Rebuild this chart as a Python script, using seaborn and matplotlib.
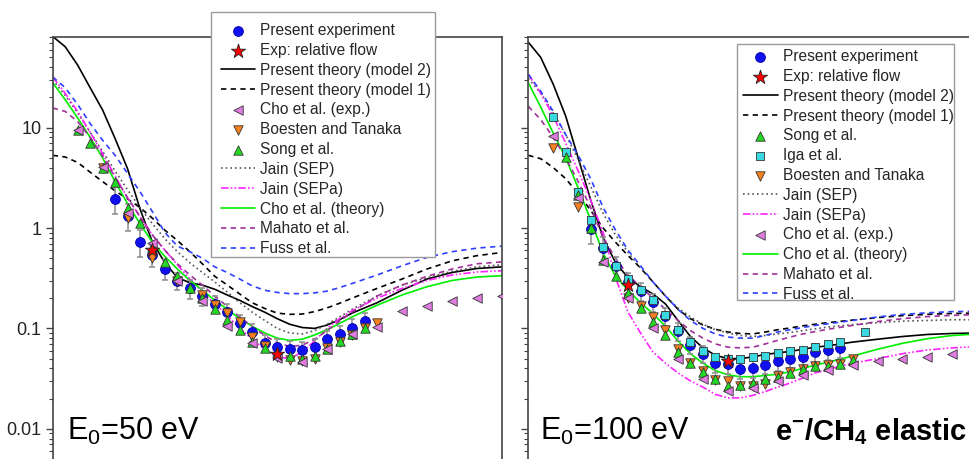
import numpy as np
import seaborn as sns
import matplotlib.pyplot as plt
from matplotlib.patches import Rectangle
from matplotlib.ticker import LogLocator, NullFormatter

# angles (deg)
ang_theory = [0, 5, 10, 15, 20, 25, 30, 35, 40, 45, 50, 55, 60, 65, 70, 75, 80, 85,
              90, 95, 100, 105, 110, 115, 120, 130, 140, 150, 160, 170, 180]
ang_exp = [25, 30, 35, 40, 45, 50, 55, 60, 65, 70, 75, 80, 85, 90, 95, 100, 105,
           110, 115, 120, 125]

# ---------------- 50 eV ----------------
exp50 = [1.96, 1.33, 0.73, 0.54, 0.39, 0.30, 0.25, 0.21, 0.177, 0.146, 0.113, 0.092,
         0.072, 0.066, 0.062, 0.061, 0.066, 0.078, 0.088, 0.101, 0.118]
err50 = [0.30, 0.30, 0.30, 0.25, 0.22, 0.20, 0.22, 0.20, 0.20, 0.20, 0.20, 0.20,
         0.20, 0.20, 0.20, 0.20, 0.20, 0.20, 0.20, 0.22, 0.22]
flow_ang50 = [40, 90]
flow50 = [0.61, 0.055]
cho_exp_ang50 = [10, 20, 30, 40, 50, 60, 70, 80, 90, 100, 110, 120, 130, 140, 150, 160, 170, 180]
cho_exp50 = [9.5, 4.05, 1.4, 0.71, 0.30, 0.186, 0.106, 0.072, 0.051, 0.046, 0.062, 0.087,
             0.103, 0.148, 0.168, 0.186, 0.20, 0.208]
boe_ang50 = [20, 30, 40, 50, 60, 65, 70, 75, 80, 85, 90, 95, 100, 105, 110, 115, 120, 125, 130]
boe50 = [4.0, 1.25, 0.50, 0.30, 0.217, 0.172, 0.142, 0.115, 0.082, 0.067, 0.052, 0.048,
         0.047, 0.049, 0.064, 0.073, 0.086, 0.101, 0.112]
song_ang50 = [10, 15, 20, 25, 30, 35, 40, 45, 50, 55, 60, 65, 70, 75, 80, 85, 90, 95,
              100, 105, 110, 115, 120, 125]
song50 = [9.5, 7.0, 4.0, 2.85, 1.6, 1.12, 0.64, 0.46, 0.33, 0.25, 0.20, 0.156, 0.12,
          0.097, 0.074, 0.064, 0.058, 0.053, 0.050, 0.053, 0.063, 0.075, 0.088, 0.10]

model2_50 = [81, 64, 42, 25, 15, 7.8, 3.9, 1.55, 0.72, 0.45, 0.32, 0.285, 0.27, 0.245,
             0.215, 0.19, 0.165, 0.145, 0.125, 0.11, 0.102, 0.10, 0.108, 0.122, 0.142,
             0.18, 0.24, 0.31, 0.36, 0.395, 0.41]
model1_50 = [5.3, 5.1, 4.5, 3.6, 2.9, 2.35, 1.95, 1.6, 1.25, 0.95, 0.75, 0.58, 0.44, 0.33,
             0.27, 0.22, 0.18, 0.158, 0.142, 0.138, 0.139, 0.147, 0.16, 0.178, 0.20,
             0.25, 0.31, 0.39, 0.47, 0.53, 0.57]
jain_sep50 = [30, 21, 14, 9, 5.8, 3.7, 2.4, 1.6, 1.1, 0.78, 0.58, 0.45, 0.36, 0.29, 0.23,
              0.18, 0.145, 0.12, 0.10, 0.09, 0.088, 0.095, 0.11, 0.13, 0.155, 0.21,
              0.27, 0.32, 0.37, 0.41, 0.43]
jain_sepa50 = [32, 22, 14.5, 9, 5.5, 3.3, 2.0, 1.3, 0.85, 0.60, 0.43, 0.31, 0.23, 0.175,
               0.135, 0.10, 0.078, 0.062, 0.052, 0.050, 0.058, 0.075, 0.10, 0.125, 0.15,
               0.20, 0.25, 0.30, 0.34, 0.365, 0.375]
cho_th50 = [28, 19, 12.5, 8, 5, 2.9, 1.75, 1.1, 0.72, 0.52, 0.39, 0.30, 0.24, 0.19, 0.155,
            0.125, 0.105, 0.09, 0.08, 0.076, 0.078, 0.086, 0.097, 0.112, 0.13, 0.17,
            0.215, 0.26, 0.30, 0.325, 0.335]
mahato50 = [15.7, 14.5, 11.5, 8, 5.2, 3.2, 2.0, 1.3, 0.85, 0.60, 0.44, 0.34, 0.27, 0.21,
            0.165, 0.13, 0.104, 0.085, 0.072, 0.066, 0.068, 0.078, 0.095, 0.118, 0.145,
            0.21, 0.27, 0.33, 0.39, 0.44, 0.46]
fuss50 = [32, 25, 17, 11, 7.5, 5.3, 3.5, 2.3, 1.45, 0.90, 0.66, 0.58, 0.50, 0.41, 0.36,
          0.31, 0.265, 0.24, 0.228, 0.222, 0.222, 0.226, 0.235, 0.255, 0.28, 0.34, 0.42,
          0.51, 0.58, 0.63, 0.66]

# ---------------- 100 eV ----------------
exp100 = [0.98, 0.63, 0.415, 0.29, 0.234, 0.182, 0.132, 0.094, 0.069, 0.056, 0.045, 0.044,
          0.039, 0.040, 0.0435, 0.047, 0.050, 0.0515, 0.058, 0.061, 0.064]
err100 = [0.30, 0.28, 0.25, 0.22, 0.20, 0.20, 0.20, 0.20, 0.20, 0.20, 0.20, 0.20,
          0.20, 0.20, 0.20, 0.20, 0.20, 0.20, 0.20, 0.20, 0.20]
flow_ang100 = [40, 80]
flow100 = [0.27, 0.047]
song_ang100 = [15, 20, 25, 30, 35, 40, 45, 50, 55, 60, 65, 70, 75, 80, 85, 90, 95, 100,
               105, 110, 115, 120, 125, 130]
song100 = [5.1, 2.15, 1.0, 0.48, 0.335, 0.225, 0.16, 0.115, 0.085, 0.058, 0.045, 0.0365,
           0.031, 0.0265, 0.027, 0.0286, 0.0313, 0.033, 0.036, 0.039, 0.042, 0.0425,
           0.0445, 0.048]
iga_ang100 = [10, 15, 20, 25, 30, 35, 40, 45, 50, 55, 60, 65, 70, 75, 80, 85, 90, 95, 100,
              105, 110, 115, 120, 125, 135]
iga100 = [12.7, 5.7, 2.3, 1.19, 0.65, 0.42, 0.31, 0.24, 0.19, 0.135, 0.097, 0.074, 0.059,
          0.052, 0.050, 0.049, 0.052, 0.0535, 0.057, 0.059, 0.061, 0.065, 0.070, 0.074,
          0.092]
boe_ang100 = [10, 20, 40, 45, 50, 55, 60, 65, 70, 75, 80, 85, 90, 95, 100, 105, 110, 115,
              120, 125, 130]
boe100 = [6.3, 1.62, 0.20, 0.166, 0.13, 0.097, 0.062, 0.045, 0.0374, 0.0308, 0.0297,
          0.0269, 0.0269, 0.028, 0.0334, 0.037, 0.039, 0.042, 0.0435, 0.0445, 0.049]
cho_exp_ang100 = [10, 20, 30, 40, 50, 60, 70, 80, 90, 100, 110, 120, 130, 140, 150, 160, 170, 180]
cho_exp100 = [8.2, 1.99, 0.455, 0.20, 0.101, 0.049, 0.031, 0.0236, 0.0255, 0.0297, 0.0346,
              0.0388, 0.0428, 0.047, 0.050, 0.052, 0.056, 0.058]

model2_100 = [71, 50, 27, 13, 5.0, 1.9, 0.80, 0.45, 0.32, 0.26, 0.22, 0.175, 0.12, 0.083,
              0.064, 0.054, 0.050, 0.050, 0.052, 0.055, 0.057, 0.059, 0.062, 0.065, 0.067,
              0.073, 0.078, 0.083, 0.087, 0.089, 0.09]
model1_100 = [5.3, 4.9, 4.0, 3.1, 2.2, 1.5, 1.0, 0.72, 0.53, 0.40, 0.29, 0.21, 0.155, 0.125,
              0.108, 0.098, 0.092, 0.089, 0.088, 0.092, 0.097, 0.101, 0.106, 0.11, 0.114,
              0.121, 0.128, 0.134, 0.138, 0.141, 0.142]
jain_sep100 = [31, 22, 14, 8.5, 4.8, 2.6, 1.4, 0.85, 0.57, 0.40, 0.29, 0.21, 0.16, 0.13,
               0.11, 0.097, 0.09, 0.085, 0.083, 0.085, 0.088, 0.091, 0.095, 0.099, 0.103,
               0.109, 0.114, 0.118, 0.12, 0.122, 0.122]
jain_sepa100 = [34, 22, 13, 7, 3.7, 1.9, 0.9, 0.32, 0.145, 0.09, 0.058, 0.045, 0.036, 0.03,
                0.026, 0.022, 0.0203, 0.0203, 0.0215, 0.0235, 0.026, 0.0286, 0.032, 0.036,
                0.039, 0.045, 0.05, 0.056, 0.061, 0.064, 0.066]
cho_th100 = [28, 16, 8.8, 5.0, 2.5, 1.2, 0.56, 0.33, 0.24, 0.18, 0.14, 0.105, 0.075, 0.056,
             0.045, 0.038, 0.0345, 0.033, 0.033, 0.034, 0.035, 0.037, 0.040, 0.043, 0.046,
             0.053, 0.062, 0.071, 0.079, 0.085, 0.088]
mahato100 = [16.3, 12, 8, 5, 2.9, 1.6, 0.8, 0.5, 0.34, 0.26, 0.20, 0.155, 0.12, 0.095,
             0.08, 0.07, 0.065, 0.064, 0.065, 0.07, 0.076, 0.082, 0.088, 0.093, 0.098,
             0.107, 0.117, 0.125, 0.131, 0.135, 0.137]
fuss100 = [34, 23, 14.5, 8.5, 5.3, 3.1, 1.6, 0.95, 0.60, 0.42, 0.29, 0.21, 0.155, 0.12,
           0.10, 0.088, 0.082, 0.08, 0.08, 0.085, 0.092, 0.097, 0.102, 0.107, 0.111,
           0.12, 0.13, 0.138, 0.143, 0.147, 0.148]

sns.set_theme(style="ticks")
plt.rcParams['font.family'] = ['Liberation Sans', 'DejaVu Sans']
plt.rcParams['mathtext.fontset'] = 'custom'
plt.rcParams['mathtext.rm'] = 'Liberation Sans'
plt.rcParams['mathtext.it'] = 'Liberation Sans:italic'
plt.rcParams['mathtext.bf'] = 'Liberation Sans:bold'

W, H = 969, 459
fig = plt.figure(figsize=(W / 100, H / 100), dpi=100)
axL = fig.add_axes([52.7 / W, 0.0, 449 / W, 1 - 36.7 / H])
axR = fig.add_axes([528.3 / W, 0.0, 449 / W, 1 - 36.7 / H])

C_BLUE = '#1010ee'
C_PINK = '#e07be0'
C_ORANGE = '#f7801e'
C_GREEN = '#22d822'
C_CYAN = '#3ad8e0'

lw = 1.2
dash = (0, (3.2, 2.6))
dashdot = (0, (4.5, 1.3, 1, 1.3, 1, 1.3))
dotted = (0, (1, 1.8))


def theory(ax, vals, label, color, ls):
    sns.lineplot(x=ang_theory, y=vals, ax=ax, color=color, linestyle=ls, lw=lw,
                 label=label, legend=False, zorder=2)


def points(ax, ang, vals, label, color, marker, s, z, ec='#333333'):
    sns.scatterplot(x=ang, y=vals, ax=ax, color=color, marker=marker, s=s,
                    edgecolor=ec, linewidth=0.6, label=label, legend=False, zorder=z)


def experiment(ax, vals, rel):
    vals = np.array(vals)
    ax.errorbar(ang_exp, vals, yerr=vals * np.array(rel), fmt='none', ecolor='#8c8c8c',
                elinewidth=1.1, capsize=2.2, capthick=1.1, zorder=2.5)
    points(ax, ang_exp, vals, 'Present experiment', C_BLUE, 'o', 50, 3.0, ec='#0000aa')


# left panel
experiment(axL, exp50, err50)
theory(axL, model2_50, 'Present theory (model 2)', 'black', '-')
theory(axL, model1_50, 'Present theory (model 1)', 'black', dash)
theory(axL, jain_sep50, 'Jain (SEP)', '#555555', dotted)
theory(axL, jain_sepa50, 'Jain (SEPa)', '#ff22ff', dashdot)
theory(axL, cho_th50, 'Cho et al. (theory)', '#00ee00', '-')
theory(axL, mahato50, 'Mahato et al.', '#a0309a', dash)
theory(axL, fuss50, 'Fuss et al.', '#3040ff', dash)
points(axL, boe_ang50, boe50, 'Boesten and Tanaka', C_ORANGE, 'v', 46, 3.2)
points(axL, song_ang50, song50, 'Song et al.', C_GREEN, '^', 46, 3.3)
points(axL, cho_exp_ang50, cho_exp50, 'Cho et al. (exp.)', C_PINK, '<', 46, 3.4)
points(axL, flow_ang50, flow50, 'Exp: relative flow', '#ff0000', '*', 115, 3.6, ec='#222222')

# right panel
experiment(axR, exp100, err100)
theory(axR, model2_100, 'Present theory (model 2)', 'black', '-')
theory(axR, model1_100, 'Present theory (model 1)', 'black', dash)
theory(axR, jain_sep100, 'Jain (SEP)', '#555555', dotted)
theory(axR, jain_sepa100, 'Jain (SEPa)', '#ff22ff', dashdot)
theory(axR, cho_th100, 'Cho et al. (theory)', '#00ee00', '-')
theory(axR, mahato100, 'Mahato et al.', '#a0309a', dash)
theory(axR, fuss100, 'Fuss et al.', '#3040ff', dash)
points(axR, iga_ang100, iga100, 'Iga et al.', C_CYAN, 's', 30, 3.1)
points(axR, boe_ang100, boe100, 'Boesten and Tanaka', C_ORANGE, 'v', 46, 3.2)
points(axR, song_ang100, song100, 'Song et al.', C_GREEN, '^', 46, 3.3)
points(axR, cho_exp_ang100, cho_exp100, 'Cho et al. (exp.)', C_PINK, '<', 46, 3.4)
points(axR, flow_ang100, flow100, 'Exp: relative flow', '#ff0000', '*', 115, 3.6, ec='#222222')

for ax in (axL, axR):
    ax.set_yscale('log')
    ax.set_xlim(0, 180)
    ax.set_ylim(0.005, 80.5)
    ax.set_xlabel('')
    ax.set_ylabel('')
    ax.set_xticks([])
    ax.spines['bottom'].set_visible(False)
    for sp in ('left', 'top', 'right'):
        ax.spines[sp].set_color('#444444')
        ax.spines[sp].set_linewidth(1.2)
    ax.set_yticks([0.01, 0.1, 1, 10])
    ax.yaxis.set_minor_locator(LogLocator(base=10, subs=np.arange(2, 10)))
    ax.yaxis.set_minor_formatter(NullFormatter())
    ax.tick_params(axis='y', which='major', direction='out', length=5, width=1.0,
                   color='#444444', pad=3, labelsize=13, labelcolor='#222222')
    ax.tick_params(axis='y', which='minor', direction='out', length=3, width=0.8,
                   color='#444444')

axL.set_yticklabels(['0.01', '0.1', '1', '10'])
axR.set_yticklabels([])

# annotations
fig.text(66.7 / W, 1 - 440 / H, r'E$_\mathrm{0}$=50 eV', fontsize=22, va='baseline',
         ha='left', color='black')
fig.text(540 / W, 1 - 440 / H, r'E$_\mathrm{0}$=100 eV', fontsize=22, va='baseline',
         ha='left', color='black')
fig.text(967 / W, 1 - 440 / H, r'e$^{\mathbf{-}}$/CH$_{\mathbf{4}}$ elastic', fontsize=21,
         fontweight='bold', va='baseline', ha='right', color='black')

# legends
order_L = ['Present experiment', 'Exp: relative flow', 'Present theory (model 2)',
           'Present theory (model 1)', 'Cho et al. (exp.)', 'Boesten and Tanaka',
           'Song et al.', 'Jain (SEP)', 'Jain (SEPa)', 'Cho et al. (theory)',
           'Mahato et al.', 'Fuss et al.']
order_R = ['Present experiment', 'Exp: relative flow', 'Present theory (model 2)',
           'Present theory (model 1)', 'Song et al.', 'Iga et al.', 'Boesten and Tanaka',
           'Jain (SEP)', 'Jain (SEPa)', 'Cho et al. (exp.)', 'Cho et al. (theory)',
           'Mahato et al.', 'Fuss et al.']


def make_legend(ax, order, box, anchor):
    h, l = ax.get_legend_handles_labels()
    lut = dict(zip(l, h))
    x0, y0, x1, y1 = box
    fig.patches.append(Rectangle((x0 / W, 1 - y1 / H), (x1 - x0) / W, (y1 - y0) / H,
                                 transform=fig.transFigure, facecolor='white',
                                 edgecolor='#9a9a9a', linewidth=1.0, zorder=4))
    fig.legend([lut[k] for k in order], order, loc='center left',
               bbox_to_anchor=(anchor[0] / W, 1 - anchor[1] / H),
               bbox_transform=fig.transFigure, frameon=False, fontsize=11.2,
               labelspacing=0.31, handlelength=2.2, handletextpad=0.33, borderpad=0,
               borderaxespad=0, scatterpoints=1)


make_legend(axL, order_L, (211, 11.7, 435, 256.7), (221, 139.7))
make_legend(axR, order_R, (736.7, 44.3, 954.3, 300), (743.3, 175.5))

fig.savefig('out.png', dpi=100)
